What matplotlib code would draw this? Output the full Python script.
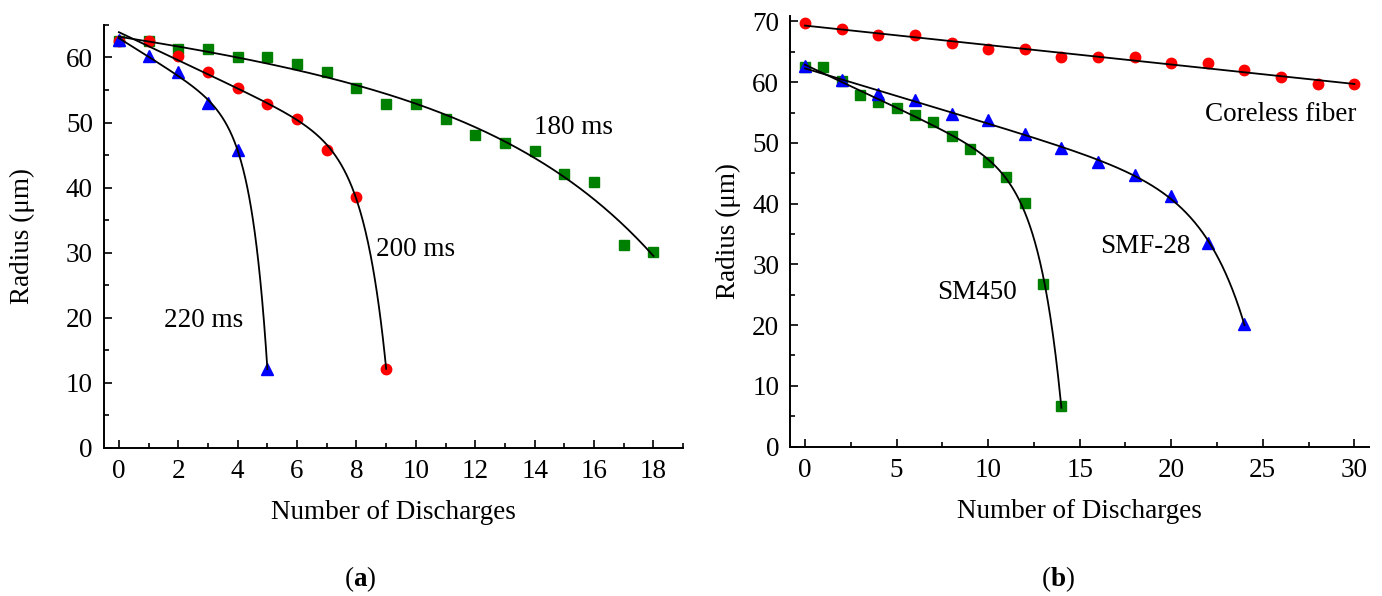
import numpy as np
import matplotlib
matplotlib.use('Agg')
from matplotlib import pyplot as plt
from matplotlib.ticker import MultipleLocator

plt.rcParams['font.family'] = ['Liberation Serif', 'DejaVu Serif']
plt.rcParams['mathtext.fontset'] = 'custom'
plt.rcParams['mathtext.rm'] = 'Liberation Serif'
plt.rcParams['mathtext.bf'] = 'Liberation Serif:bold'

# (a) arc duration series
x_220 = [0, 1, 2, 3, 4, 5]
r_220 = [62.7, 60.2, 57.8, 53.0, 45.7, 12.1]
x_200 = [0, 1, 2, 3, 4, 5, 6, 7, 8, 9]
r_200 = [62.5, 62.6, 60.2, 57.8, 55.3, 52.9, 50.5, 45.7, 38.5, 12.1]
x_180 = list(range(19))
r_180 = [62.5, 62.5, 61.3, 61.3, 60.1, 60.1, 59.0, 57.7, 55.3, 52.9,
         52.9, 50.5, 48.1, 46.9, 45.6, 42.1, 40.8, 31.2, 30.1]

# (b) fiber types
x_coreless = list(range(0, 31, 2))
r_coreless = [69.8, 68.8, 67.7, 67.7, 66.5, 65.4, 65.4, 64.2, 64.2, 64.2,
              63.1, 63.1, 62.0, 60.8, 59.7, 59.7]
x_smf28 = list(range(0, 25, 2))
r_smf28 = [62.6, 60.4, 58.1, 57.1, 54.7, 53.7, 51.4, 49.1, 46.9, 44.7,
           41.3, 33.5, 20.1]
x_sm450 = list(range(15))
r_sm450 = [62.5, 62.5, 60.2, 57.9, 56.8, 55.7, 54.6, 53.4, 51.2, 49.0,
           46.8, 44.4, 40.1, 26.7, 6.7]

FS = 19.5


def fit_curve(x, y):
    # y = a + b*x + c*exp(x/t), t by grid search
    x = np.asarray(x, float)
    y = np.asarray(y, float)
    best = None
    for t in np.linspace(0.3, 30, 600):
        A = np.column_stack([np.ones_like(x), x, np.exp(x / t)])
        coef, *_ = np.linalg.lstsq(A, y, rcond=None)
        res = np.sum((A @ coef - y) ** 2)
        if best is None or res < best[0]:
            best = (res, t, coef)
    _, t, coef = best
    xs = np.linspace(x.min(), x.max(), 400)
    return xs, coef[0] + coef[1] * xs + coef[2] * np.exp(xs / t)


def style_axes(ax, ylabelpad):
    ax.spines['top'].set_visible(False)
    ax.spines['right'].set_visible(False)
    for s in ['left', 'bottom']:
        ax.spines[s].set_linewidth(1.4)
    ax.tick_params(which='both', direction='in', width=1.2, labelsize=FS, pad=8)
    ax.tick_params(which='major', length=6)
    ax.tick_params(which='minor', length=3.5)
    ax.set_xlabel('Number of Discharges', fontsize=FS, labelpad=12)
    ax.set_ylabel('Radius (μm)', fontsize=FS, labelpad=ylabelpad)


fig = plt.figure(figsize=(13.82, 5.96), dpi=100)
ax1 = fig.add_axes([0.0753, 0.2488, 0.4190, 0.7093])
ax2 = fig.add_axes([0.5719, 0.2508, 0.4187, 0.7223])

mk = dict(linestyle='none', zorder=2)
ax1.plot(x_180, r_180, marker='s', color='#008000', markersize=7, **mk)
ax1.plot(x_200, r_200, marker='o', color='#ff0000', markersize=7.5, **mk)
ax1.plot(x_220, r_220, marker='^', color='#0000ff', markersize=8.5, **mk)
for xx, yy in [(x_180, r_180), (x_200, r_200), (x_220, r_220)]:
    xs, ys = fit_curve(xx, yy)
    ax1.plot(xs, ys, color='black', linewidth=1.3, zorder=3)

ax1.text(15.3, 49.3, '180 ms', fontsize=FS, ha='center', va='center')
ax1.text(10.0, 30.5, '200 ms', fontsize=FS, ha='center', va='center')
ax1.text(2.85, 19.6, '220 ms', fontsize=FS, ha='center', va='center')

ax1.set_xlim(-0.5, 19)
ax1.set_ylim(0, 65)
ax1.xaxis.set_major_locator(MultipleLocator(2))
ax1.xaxis.set_minor_locator(MultipleLocator(1))
ax1.yaxis.set_major_locator(MultipleLocator(10))
ax1.yaxis.set_minor_locator(MultipleLocator(5))
style_axes(ax1, 22)

ax2.plot(x_coreless, r_coreless, marker='o', color='#ff0000', markersize=7.5, **mk)
ax2.plot(x_sm450, r_sm450, marker='s', color='#008000', markersize=7, **mk)
ax2.plot(x_smf28, r_smf28, marker='^', color='#0000ff', markersize=8.5, **mk)
p = np.polyfit(x_coreless, r_coreless, 1)
xs = np.linspace(0, 30, 50)
ax2.plot(xs, np.polyval(p, xs), color='black', linewidth=1.3, zorder=3)
for xx, yy in [(x_smf28, r_smf28), (x_sm450, r_sm450)]:
    xs, ys = fit_curve(xx, yy)
    ax2.plot(xs, ys, color='black', linewidth=1.3, zorder=3)

ax2.text(30.1, 54.7, 'Coreless fiber', fontsize=FS, ha='right', va='center')
ax2.text(18.6, 32.9, 'SMF-28', fontsize=FS, ha='center', va='center')
ax2.text(9.4, 25.3, 'SM450', fontsize=FS, ha='center', va='center')

ax2.set_xlim(-0.8, 30.8)
ax2.set_ylim(0, 70.9)
ax2.xaxis.set_major_locator(MultipleLocator(5))
ax2.xaxis.set_minor_locator(MultipleLocator(2.5))
ax2.yaxis.set_major_locator(MultipleLocator(10))
ax2.yaxis.set_minor_locator(MultipleLocator(5))
style_axes(ax2, 8)

fig.text(360 / 1382, 1 - 579 / 596, r'($\mathbf{a}$)', fontsize=FS, ha='center', va='center')
fig.text(1058 / 1382, 1 - 579 / 596, r'($\mathbf{b}$)', fontsize=FS, ha='center', va='center')

fig.savefig('out.png', dpi=100)
